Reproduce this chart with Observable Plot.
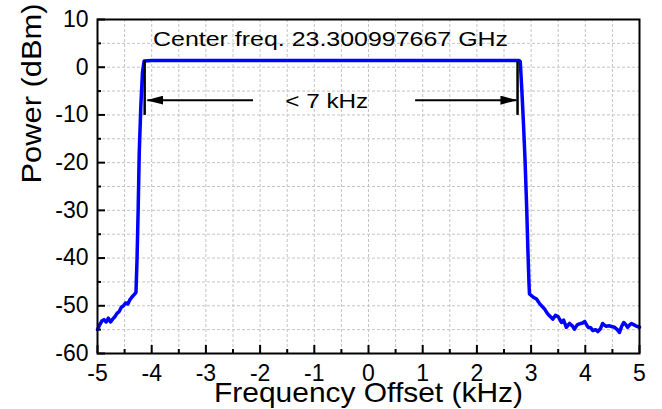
<!DOCTYPE html>
<html>
<head>
<meta charset="utf-8">
<script src="https://cdn.jsdelivr.net/npm/d3@7"></script>
<script src="https://cdn.jsdelivr.net/npm/@observablehq/plot@0.6"></script>
<style>
  html, body { margin: 0; padding: 0; background: #fff; }
</style>
</head>
<body>
<div id="chart"></div>
<script>
// ---- data ----
const freq = [
  -5.00, -4.96, -4.92, -4.88, -4.84, -4.80, -4.76, -4.72, -4.68, -4.64,
  -4.60, -4.56, -4.52, -4.48, -4.44, -4.40, -4.36, -4.32, -4.29,
  -4.27, -4.25, -4.23, -4.20, -4.17, -4.14,
  -4.0, -3.0, -2.0, -1.0, 0.0, 1.0, 2.0, 2.78,
  2.80, 2.83, 2.86, 2.89, 2.92, 2.94, 2.96, 2.97,
  3.04, 3.10, 3.16, 3.21, 3.25, 3.30, 3.34, 3.40, 3.45, 3.50,
  3.56, 3.60, 3.65, 3.71, 3.76, 3.80, 3.85, 3.89, 3.95, 3.99,
  4.05, 4.10, 4.14, 4.19, 4.23, 4.28, 4.32, 4.38, 4.45, 4.50,
  4.54, 4.59, 4.63, 4.67, 4.71, 4.75, 4.78, 4.82, 4.85, 4.90,
  4.93, 5.00
];
const power = [
  -55.0, -54.0, -53.2, -52.9, -53.4, -52.6, -53.4, -52.8, -52.3, -51.6,
  -51.2, -50.3, -50.0, -49.4, -49.6, -48.7, -48.1, -47.6, -47.2,
  -40, -30, -18, -8, -1, 1.3,
  1.4, 1.4, 1.4, 1.4, 1.4, 1.4, 1.4, 1.4,
  1.2, -5, -12, -20, -30, -38, -45, -47.5,
  -48.2, -48.6, -49.6, -50.2, -50.7, -51.6, -52.1, -52.8, -52.0, -52.3,
  -53.5, -53.0, -54.5, -53.7, -54.2, -54.9, -54.0, -53.8, -53.6, -53.3,
  -54.5, -54.6, -55.2, -55.0, -55.4, -54.8, -53.7, -54.3, -54.2, -54.4,
  -54.5, -55.0, -55.6, -54.3, -53.5, -54.0, -54.5, -54.0, -53.7, -54.0,
  -54.2, -54.5
];
const xTickLabels = [-5, -4, -3, -2, -1, 0, 1, 2, 3, 4, 5];
const xMinorTicks = [-4.5, -3.5, -2.5, -1.5, -0.5, 0.5, 1.5, 2.5, 3.5, 4.5];
const yTickLabels = [-60, -50, -40, -30, -20, -10, 0, 10];
const yMinorTicks = [-55, -45, -35, -25, -15, -5, 5];

const xTitle = "Frequency Offset (kHz)";
const yTitle = "Power (dBm)";

// annotations
const noteText = ["Center freq. 23.300997667 GHz", "< 7 kHz"];
const noteX = [-0.70, -0.77];
const noteY = [5.8, -7.1];
const arrowFromX = [-2.13, 0.86];
const arrowToX = [-4.08, 2.73];
const arrowY = [-6.9, -6.9];
const barX = [-4.13, 2.75];
const barTop = [1.3, 1.1];
const barBottom = [-10.1, -10.1];

// ---- tables ----
const series = freq.map((f, i) => ({f, p: power[i]}));
const notes = noteText.map((t, i) => ({t, x: noteX[i], y: noteY[i]}));
const arrows = arrowFromX.map((x1, i) => ({x1, x2: arrowToX[i], y: arrowY[i]}));
const bars = barX.map((x, i) => ({x, y1: barTop[i], y2: barBottom[i]}));
const xGrid = [...xTickLabels, ...xMinorTicks];
const yGrid = [...yTickLabels, ...yMinorTicks];

const W = 662, H = 409;
const mT = 19, mB = 56, mL = 97, mR = 23;
const frameH = H - mT - mB, frameW = W - mL - mR;
const fmt = d => String(d);

const chart = Plot.plot({
  width: W, height: H,
  marginTop: mT, marginBottom: mB, marginLeft: mL, marginRight: mR,
  style: {fontFamily: "'Liberation Sans', Arial, sans-serif", background: "#fff", color: "#000"},
  x: {domain: [-5, 5], label: null},
  y: {domain: [-60, 10], label: null},
  marks: [
    Plot.gridX(xGrid, {stroke: "#c4c4c4", strokeOpacity: 1, strokeDasharray: "3,2"}),
    Plot.gridY(yGrid, {stroke: "#c4c4c4", strokeOpacity: 1, strokeDasharray: "3,2"}),
    // inward ticks
    Plot.tickX(xTickLabels, {x: d => d, insetTop: frameH - 8, stroke: "#000", strokeWidth: 2}),
    Plot.tickX(xMinorTicks, {x: d => d, insetTop: frameH - 4, stroke: "#000", strokeWidth: 2}),
    Plot.tickY(yTickLabels, {y: d => d, insetRight: frameW - 8, stroke: "#000", strokeWidth: 2}),
    Plot.tickY(yMinorTicks, {y: d => d, insetRight: frameW - 4, stroke: "#000", strokeWidth: 2}),
    Plot.axisX(xTickLabels, {tickSize: 0, tickPadding: 11, fontSize: 23, tickFormat: fmt, label: null}),
    Plot.axisY(yTickLabels, {tickSize: 0, tickPadding: 9, fontSize: 23, tickFormat: fmt, label: null}),
    Plot.line(series, {x: "f", y: "p", stroke: "#0000ff", strokeWidth: 3.5, strokeLinejoin: "round"}),
    Plot.ruleX(bars, {x: "x", y1: "y1", y2: "y2", stroke: "#000", strokeWidth: 2.5}),
    Plot.link(arrows, {x1: "x1", x2: "x2", y1: "y", y2: "y", stroke: "#000", strokeWidth: 2}),
    Plot.text(notes, {x: "x", y: "y", text: "t", fontSize: 21, fill: "#000", lineAnchor: "middle"}),
    Plot.text([yTitle], {frameAnchor: "left", rotate: -90, dx: -65, dy: -3, fontSize: 28, fill: "#000", lineAnchor: "middle"}),
    Plot.text([xTitle], {frameAnchor: "bottom", dy: 40, fontSize: 28, fill: "#000", lineAnchor: "middle"}),
    Plot.frame({stroke: "#000", strokeWidth: 2})
  ]
});

// filled arrowheads
const svg = d3.select(chart);
const defs = svg.insert("defs", ":first-child");
defs.append("marker")
  .attr("id", "tri-head")
  .attr("viewBox", "0 0 17 9")
  .attr("refX", 16).attr("refY", 4.5)
  .attr("markerWidth", 17).attr("markerHeight", 9)
  .attr("markerUnits", "userSpaceOnUse")
  .attr("orient", "auto")
  .append("path").attr("d", "M0,0L17,4.5L0,9Z").attr("fill", "#000");
svg.selectAll('g[aria-label="link"] path').attr("marker-end", "url(#tri-head)");

// stretch wide texts to match reference widths
const widths = {};
widths[noteText[0]] = 355;
widths[noteText[1]] = 83;
widths[xTitle] = 309;
widths[yTitle] = 180;
svg.selectAll("text").each(function() {
  const w = widths[this.textContent];
  if (w) d3.select(this).attr("textLength", w).attr("lengthAdjust", "spacingAndGlyphs");
});

document.getElementById("chart").appendChild(chart);
</script>
</body>
</html>
